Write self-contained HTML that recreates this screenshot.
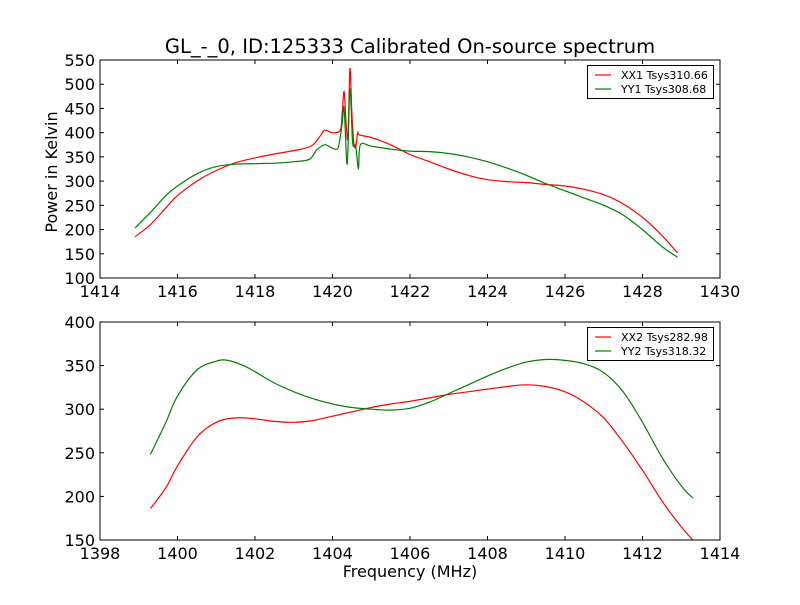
<!DOCTYPE html>
<html><head><meta charset="utf-8"><style>
body{margin:0;background:#fff;}
svg text{font-family:"DejaVu Sans","Liberation Sans",sans-serif;}
</style></head><body>
<svg id="chart" width="800" height="600" viewBox="0 0 800 600"></svg>
<script>
const topXX1Freq=[1414.9,1415.3,1415.7,1416,1416.5,1417,1417.5,1418,1418.5,1419,1419.3,1419.5,1419.7,1419.8,1420,1420.2,1420.25,1420.3,1420.35,1420.4,1420.45,1420.5,1420.55,1420.6,1420.65,1420.7,1421,1421.5,1422,1422.5,1423,1423.5,1424,1424.5,1425,1425.5,1426,1426.5,1427,1427.5,1428,1428.5,1428.9];
const topXX1Vals=[185,210,245,270,300,322,338,348,356,363,368,375,395,405,400,405,440,485,420,390,532,440,380,370,400,395,390,375,355,340,325,312,303,299,297,293,290,283,272,253,225,188,152];
const topYY1Freq=[1414.9,1415.3,1415.7,1416,1416.5,1417,1417.5,1418,1418.5,1419,1419.4,1419.6,1419.8,1420,1420.15,1420.25,1420.3,1420.38,1420.45,1420.52,1420.6,1420.67,1420.72,1421,1421.5,1422,1422.5,1423,1423.5,1424,1424.5,1425,1425.5,1426,1426.5,1427,1427.5,1428,1428.5,1428.9];
const topYY1Vals=[203,235,270,290,315,330,335,336,337,340,345,365,375,368,370,420,450,335,490,380,372,325,375,372,366,362,361,357,350,340,327,312,295,280,265,250,230,200,165,143];
const botXX2Freq=[1399.3,1399.7,1400,1400.5,1401,1401.5,1402,1402.5,1403,1403.5,1404,1404.5,1405,1405.5,1406,1406.5,1407,1407.5,1408,1408.5,1409,1409.5,1410,1410.5,1411,1411.5,1412,1412.5,1413,1413.3];
const botXX2Vals=[186,210,235,268,285,290,289,286,285,287,292,297,302,306,309,313,317,320,323,326,328,326,320,308,290,262,230,195,165,150];
const botYY2Freq=[1399.3,1399.7,1400,1400.5,1401,1401.3,1401.7,1402,1402.5,1403,1403.5,1404,1404.5,1405,1405.5,1406,1406.5,1407,1407.5,1408,1408.5,1409,1409.5,1410,1410.5,1411,1411.5,1412,1412.5,1413,1413.3];
const botYY2Vals=[248,285,315,345,355,356,350,343,330,320,312,306,302,300,299,301,308,318,328,338,347,354,357,356,352,342,320,285,245,212,198];
const topXTicks=[1414,1416,1418,1420,1422,1424,1426,1428,1430];
const topYTicks=[100,150,200,250,300,350,400,450,500,550];
const botXTicks=[1398,1400,1402,1404,1406,1408,1410,1412,1414];
const botYTicks=[150,200,250,300,350,400];
const topLegend=["XX1 Tsys310.66","YY1 Tsys308.68"];
const botLegend=["XX2 Tsys282.98","YY2 Tsys318.32"];

const svg=document.getElementById('chart');
const NS='http://www.w3.org/2000/svg';
function mk(tag,attrs,parent){const e=document.createElementNS(NS,tag);for(const k in attrs)e.setAttribute(k,attrs[k]);(parent||svg).appendChild(e);return e;}
function smoothPath(p){
  let d='M'+p[0][0].toFixed(1)+','+p[0][1].toFixed(1);
  for(let i=0;i<p.length-1;i++){
    const p0=p[i-1]||p[i],p1=p[i],p2=p[i+1],p3=p[i+2]||p2;
    const c1=[p1[0]+(p2[0]-p0[0])/6,p1[1]+(p2[1]-p0[1])/6];
    const c2=[p2[0]-(p3[0]-p1[0])/6,p2[1]-(p3[1]-p1[1])/6];
    d+=' C'+c1.map(v=>v.toFixed(1)).join(',')+' '+c2.map(v=>v.toFixed(1)).join(',')+' '+p2[0].toFixed(1)+','+p2[1].toFixed(1);
  }
  return d;
}
function panel(name,top,xmin,xmax,ymin,ymax,xt,yt,series,legend){
  const L=100,R=720,T=top,B=top+218;
  const g=mk('g',{});
  
  
  const sx=v=>L+(v-xmin)/(xmax-xmin)*(R-L);
  const sy=v=>B-(v-ymin)/(ymax-ymin)*(B-T);
  series.forEach(s=>{
    const pts=s.f.map((f,i)=>[sx(f),sy(s.v[i])]);
    const p=mk('path',{d:smoothPath(pts),fill:'none',stroke:s.c,'stroke-width':1.2,'stroke-linejoin':'round'},g);
    
    
  });
  const fr=mk('rect',{x:L,y:T,width:R-L,height:B-T,fill:'none',stroke:'#000','stroke-width':1},g);
  
  
  xt.forEach(v=>{
    const x=sx(v);
    mk('line',{x1:x,y1:B,x2:x,y2:B-4,stroke:'#000'},g);
    mk('line',{x1:x,y1:T,x2:x,y2:T+4,stroke:'#000'},g);
    const t=mk('text',{x:x,y:B+19,'font-size':16,'text-anchor':'middle'},g);
    t.textContent=v;
    
    
  });
  yt.forEach(v=>{
    const y=sy(v);
    mk('line',{x1:L,y1:y,x2:L+4,y2:y,stroke:'#000'},g);
    mk('line',{x1:R,y1:y,x2:R-4,y2:y,stroke:'#000'},g);
    const t=mk('text',{x:L-5,y:y+6,'font-size':16,'text-anchor':'end'},g);
    t.textContent=v;
    
    
  });
  const lg=mk('g',{},g);
  
  
  mk('rect',{x:587.5,y:T+5.5,width:126,height:33,fill:'#fff',stroke:'#000'},lg);
  legend.forEach((lab,i)=>{
    const y=T+15+i*14;
    mk('line',{x1:595,y1:y,x2:611,y2:y,stroke:series[i].c,'stroke-width':1.2},lg);
    const t=mk('text',{x:621,y:y+4,'font-size':11},lg);
    t.textContent=lab;
    
    
  });
}
panel('top-panel',60,1414,1430,100,550,topXTicks,topYTicks,
  [{f:topXX1Freq,v:topXX1Vals,c:'#ff0000',n:'xx1-line'},{f:topYY1Freq,v:topYY1Vals,c:'#008000',n:'yy1-line'}],topLegend);
panel('bottom-panel',322,1398,1414,150,400,botXTicks,botYTicks,
  [{f:botXX2Freq,v:botXX2Vals,c:'#ff0000',n:'xx2-line'},{f:botYY2Freq,v:botYY2Vals,c:'#008000',n:'yy2-line'}],botLegend);

let t=mk('text',{x:410,y:53,'font-size':19.5,'text-anchor':'middle'});
t.textContent='GL_-_0, ID:125333 Calibrated On-source spectrum';


t=mk('text',{x:410,y:577,'font-size':16,'text-anchor':'middle'});
t.textContent='Frequency (MHz)';


t=mk('text',{x:0,y:0,'font-size':16,'text-anchor':'middle',transform:'translate(57,172) rotate(-90)'});
t.textContent='Power in Kelvin';


</script>
</body></html>
